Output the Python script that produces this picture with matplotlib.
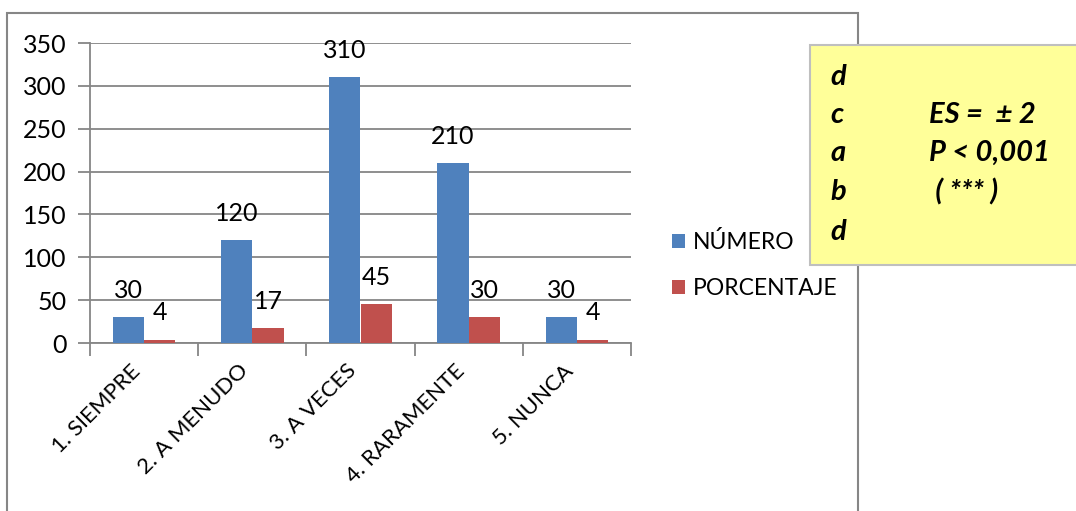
import matplotlib.pyplot as plt
from matplotlib.patches import Rectangle

# data
categories = ["1. SIEMPRE", "2. A MENUDO", "3. A VECES", "4. RARAMENTE", "5. NUNCA"]
numero = [30, 120, 310, 210, 30]
porcentaje = [4, 17, 45, 30, 4]
box_left = ["d", "c", "a", "b", "d"]
box_right = ["", "ES =  ± 2", "P < 0,001", " ( *** )", ""]

W, H = 1076, 511
plt.rcParams['font.family'] = ['Lato', 'DejaVu Sans']
fig = plt.figure(figsize=(W / 100, H / 100), dpi=100)

def fx(px):
	return px / W

def fy(py):
	return 1 - py / H

grey = "#868686"
fs = 18

# outer chart frame
fig.patches.append(Rectangle((fx(7), fy(520)), fx(858) - fx(7), fy(13) - fy(520),
	transform=fig.transFigure, fill=False, edgecolor=grey, lw=1.5, zorder=0))

ax = fig.add_axes([fx(90), fy(343), fx(631) - fx(90), fy(43) - fy(343)])
x = list(range(len(categories)))
w = 0.29
b1 = ax.bar([i - w / 2 for i in x], numero, w, color="#4F81BD", label="NÚMERO", zorder=3)
b2 = ax.bar([i + w / 2 for i in x], porcentaje, w, color="#C0504D", label="PORCENTAJE", zorder=3)
ax.bar_label(b1, fontsize=fs, padding=11)
ax.bar_label(b2, fontsize=fs, padding=11)

ax.set_xlim(-0.5, len(categories) - 0.5)
ax.set_ylim(0, 350)
ax.set_yticks(range(0, 351, 50))
ax.yaxis.grid(True, color=grey, lw=1.3, zorder=0)
ax.tick_params(axis='y', labelsize=fs, length=9, color=grey, width=1.3, pad=8)

ax.set_xticks([i + 0.5 for i in range(-1, len(categories))])
ax.set_xticklabels([])
ax.tick_params(axis='x', which='major', length=9, color=grey, width=1.3)
ax.set_xticks(x, minor=True)
ax.set_xticklabels(categories, minor=True, rotation=45, ha='right', va='bottom',
	rotation_mode='anchor', fontsize=16)
ax.tick_params(axis='x', which='minor', length=0, pad=23)

for s in ["top", "right"]:
	ax.spines[s].set_visible(False)
for s in ["left", "bottom"]:
	ax.spines[s].set_color(grey)
	ax.spines[s].set_linewidth(1.3)

fig.legend(handles=[b1, b2], loc='upper left', bbox_to_anchor=(fx(663), fy(222)),
	frameon=False, fontsize=16.5, handlelength=0.55, handleheight=0.55,
	handletextpad=0.35, labelspacing=1.1, borderaxespad=0)

# yellow note box
fig.patches.append(Rectangle((fx(810), fy(265)), fx(1080) - fx(810), fy(45) - fy(265),
	transform=fig.transFigure, facecolor="#FFFF99", edgecolor="#BFBFBF", lw=1.5, zorder=2))
rows_y = [77, 115, 153, 192, 232]
for yy, a, b in zip(rows_y, box_left, box_right):
	fig.text(fx(830), fy(yy), a, fontsize=21, fontweight='bold', style='italic',
		va='center', ha='left', zorder=3)
	if b:
		fig.text(fx(929), fy(yy), b, fontsize=21, fontweight='bold', style='italic',
			va='center', ha='left', zorder=3)

fig.savefig("out.png", dpi=100)
